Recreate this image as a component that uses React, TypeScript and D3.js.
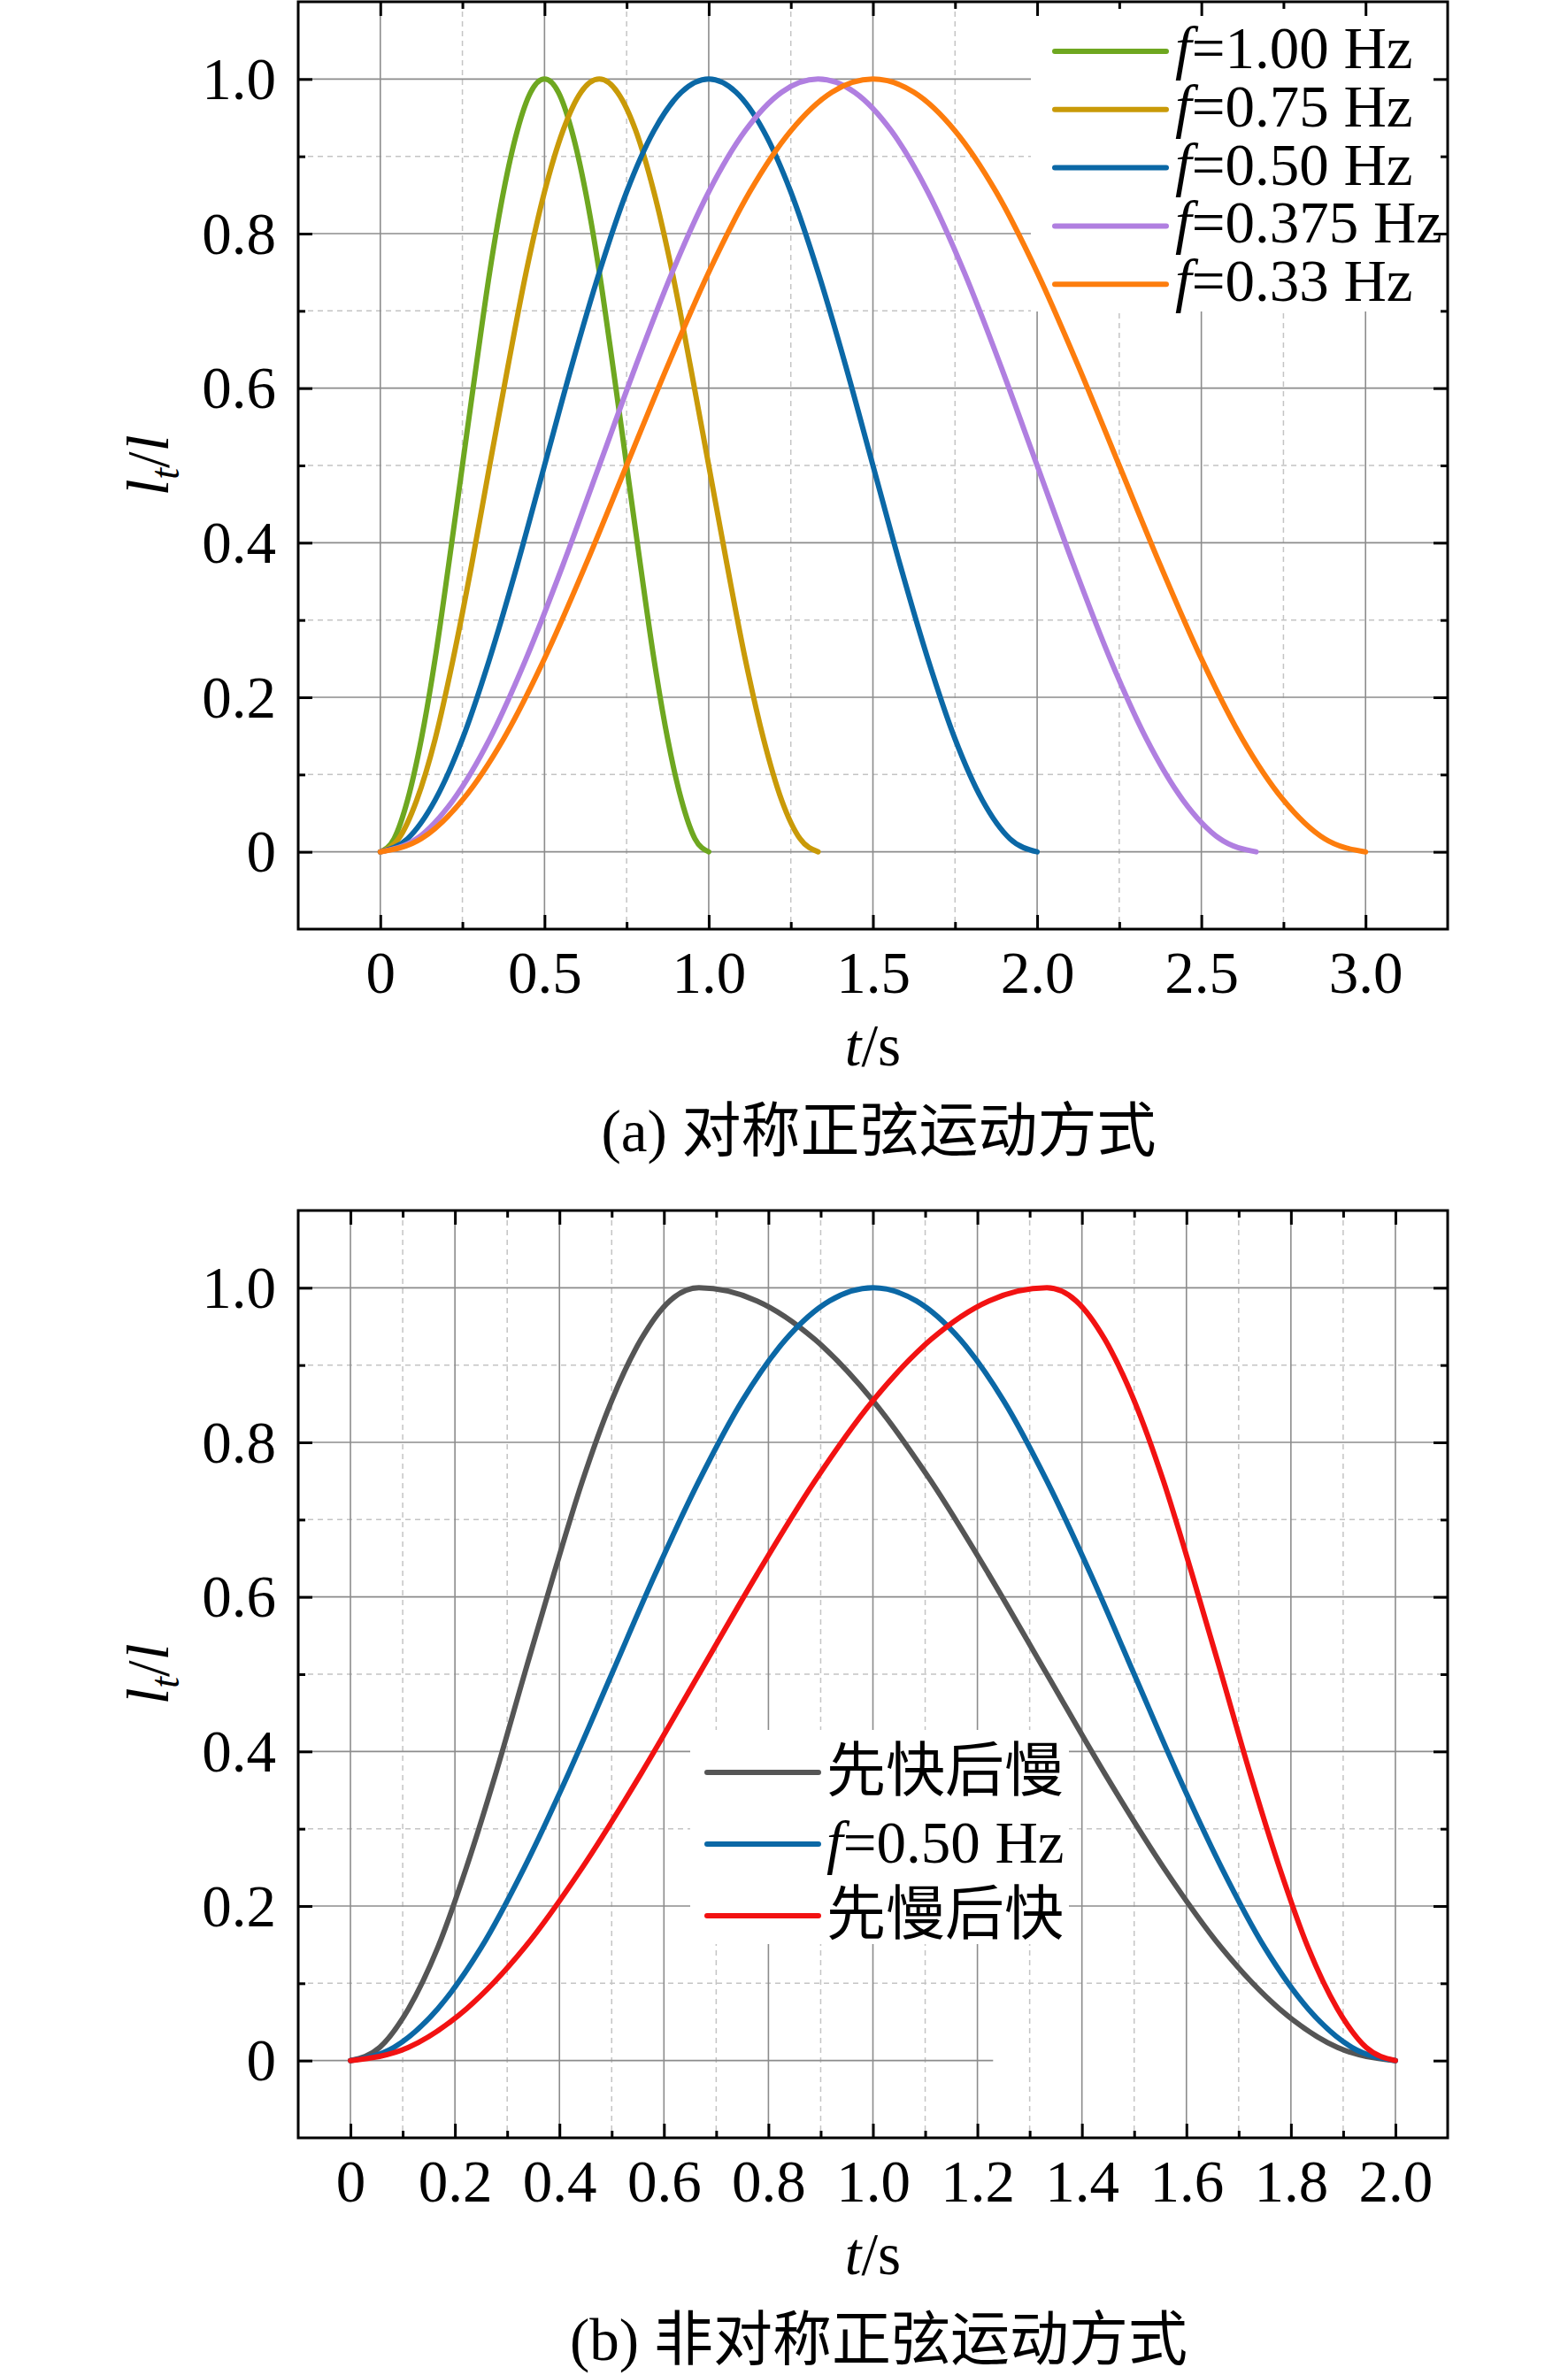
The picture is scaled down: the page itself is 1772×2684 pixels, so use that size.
import React, { useRef, useEffect } from 'react';
import * as d3 from 'd3';

const SERIF = "'Liberation Serif', 'Times New Roman', 'Noto Sans CJK SC', serif";
const FONT_SIZE = 67;

// one rise-and-fall cycle of l_t/l, read at 25 points along each curve
const cycleValues = [0, 0.017, 0.067, 0.146, 0.25, 0.371, 0.5, 0.629, 0.75, 0.854, 0.933, 0.983, 1,
  0.983, 0.933, 0.854, 0.75, 0.629, 0.5, 0.371, 0.25, 0.146, 0.067, 0.017, 0];

// (a) symmetric sine motion: sample times of each curve
const tF100 = [0, 0.042, 0.083, 0.125, 0.167, 0.208, 0.25, 0.292, 0.333, 0.375, 0.417, 0.458, 0.5,
  0.542, 0.583, 0.625, 0.667, 0.708, 0.75, 0.792, 0.833, 0.875, 0.917, 0.958, 1.0];
const tF075 = [0, 0.056, 0.111, 0.167, 0.222, 0.278, 0.333, 0.389, 0.444, 0.5, 0.556, 0.611, 0.667,
  0.722, 0.778, 0.833, 0.889, 0.944, 1.0, 1.056, 1.111, 1.167, 1.222, 1.278, 1.333];
const tF050 = [0, 0.083, 0.167, 0.25, 0.333, 0.417, 0.5, 0.583, 0.667, 0.75, 0.833, 0.917, 1.0,
  1.083, 1.167, 1.25, 1.333, 1.417, 1.5, 1.583, 1.667, 1.75, 1.833, 1.917, 2.0];
const tF0375 = [0, 0.111, 0.222, 0.333, 0.444, 0.556, 0.667, 0.778, 0.889, 1.0, 1.111, 1.222, 1.333,
  1.444, 1.556, 1.667, 1.778, 1.889, 2.0, 2.111, 2.222, 2.333, 2.444, 2.556, 2.667];
const tF033 = [0, 0.125, 0.25, 0.375, 0.5, 0.625, 0.75, 0.875, 1.0, 1.125, 1.25, 1.375, 1.5,
  1.625, 1.75, 1.875, 2.0, 2.125, 2.25, 2.375, 2.5, 2.625, 2.75, 2.875, 3.0];

// (b) asymmetric sine motion
const tFastSlow = [0, 0.056, 0.111, 0.167, 0.222, 0.278, 0.333, 0.389, 0.444, 0.5, 0.556, 0.611, 0.667,
  0.778, 0.889, 1.0, 1.111, 1.222, 1.333, 1.444, 1.556, 1.667, 1.778, 1.889, 2.0];
const tSlowFast = [0, 0.111, 0.222, 0.333, 0.444, 0.556, 0.667, 0.778, 0.889, 1.0, 1.111, 1.222, 1.333,
  1.389, 1.444, 1.5, 1.556, 1.611, 1.667, 1.722, 1.778, 1.833, 1.889, 1.944, 2.0];

const xMajorA = [0, 0.5, 1.0, 1.5, 2.0, 2.5, 3.0];
const xMinorA = [0.25, 0.75, 1.25, 1.75, 2.25, 2.75];
const xMajorB = [0, 0.2, 0.4, 0.6, 0.8, 1.0, 1.2, 1.4, 1.6, 1.8, 2.0];
const xMinorB = [0.1, 0.3, 0.5, 0.7, 0.9, 1.1, 1.3, 1.5, 1.7, 1.9];
const yMajor = [0, 0.2, 0.4, 0.6, 0.8, 1.0];
const yMinor = [0.1, 0.3, 0.5, 0.7, 0.9];

interface Series {
  label: string;
  color: string;
  t: number[];
  v: number[];
}

const seriesA: Series[] = [
  { label: 'f=1.00 Hz', color: '#6ea720', t: tF100, v: cycleValues },
  { label: 'f=0.75 Hz', color: '#c99a08', t: tF075, v: cycleValues },
  { label: 'f=0.50 Hz', color: '#0b68a6', t: tF050, v: cycleValues },
  { label: 'f=0.375 Hz', color: '#b07fe0', t: tF0375, v: cycleValues },
  { label: 'f=0.33 Hz', color: '#fd7d0d', t: tF033, v: cycleValues },
];

const seriesB: Series[] = [
  { label: '先快后慢', color: '#555555', t: tFastSlow, v: cycleValues },
  { label: 'f=0.50 Hz', color: '#0b68a6', t: tF050, v: cycleValues },
  { label: '先慢后快', color: '#f21212', t: tSlowFast, v: cycleValues },
];

interface Panel {
  left: number; right: number; top: number; bottom: number;
  xDomain: [number, number];
  xMajor: number[]; xMinor: number[];
  series: Series[];
  legendBox: [number, number, number, number];
  legendX: number; legendY: number; legendStep: number; legendText: number; legendDy: number;
  zeroLineEnd?: number;
  caption: string;
}

const panels: Panel[] = [
  {
    left: 337, right: 1636, top: 2, bottom: 1050,
    xDomain: [-0.25, 3.25], xMajor: xMajorA, xMinor: xMinorA, series: seriesA,
    legendBox: [1165, 4, 1634, 352],
    legendX: 1192, legendY: 58, legendStep: 65.8, legendText: 1328, legendDy: 19,
    caption: '(a) 对称正弦运动方式',
  },
  {
    left: 337, right: 1636, top: 1368, bottom: 2416,
    xDomain: [-0.1, 2.1], xMajor: xMajorB, xMinor: xMinorB, series: seriesB,
    legendBox: [780, 1955, 1208, 2197],
    legendX: 799, legendY: 2003, legendStep: 81, legendText: 934, legendDy: 21,
    zeroLineEnd: 1.23,
    caption: '(b) 非对称正弦运动方式',
  },
];

const fmt = (d: number) => (d === 0 ? '0' : d.toFixed(1));

function addLabel(sel: d3.Selection<SVGTextElement, unknown, null, undefined>, label: string) {
  if (label.startsWith('f=')) {
    sel.append('tspan').attr('font-style', 'italic').text('f');
    sel.append('tspan').text(label.slice(1));
  } else {
    sel.text(label);
  }
}

function drawPanel(svg: d3.Selection<SVGSVGElement, unknown, null, undefined>, p: Panel) {
  const x = d3.scaleLinear().domain(p.xDomain).range([p.left, p.right]);
  const y = d3.scaleLinear().domain([-0.1, 1.1]).range([p.bottom, p.top]);
  const g = svg.append('g');

  // grid
  const grid = g.append('g');
  grid.selectAll('line.vmin').data(p.xMinor).join('line')
    .attr('x1', (d) => x(d)).attr('x2', (d) => x(d))
    .attr('y1', p.top).attr('y2', p.bottom)
    .attr('stroke', '#c4c4c4').attr('stroke-width', 1.5).attr('stroke-dasharray', '6,5');
  grid.selectAll('line.hmin').data(yMinor).join('line')
    .attr('x1', p.left).attr('x2', p.right)
    .attr('y1', (d) => y(d)).attr('y2', (d) => y(d))
    .attr('stroke', '#c4c4c4').attr('stroke-width', 1.5).attr('stroke-dasharray', '6,5');
  grid.selectAll('line.vmaj').data(p.xMajor).join('line')
    .attr('x1', (d) => x(d)).attr('x2', (d) => x(d))
    .attr('y1', p.top).attr('y2', p.bottom)
    .attr('stroke', '#8c8c8c').attr('stroke-width', 1.6);
  grid.selectAll('line.hmaj').data(yMajor).join('line')
    .attr('x1', p.left)
    .attr('x2', (d) => (d === 0 && p.zeroLineEnd !== undefined ? x(p.zeroLineEnd) : p.right))
    .attr('y1', (d) => y(d)).attr('y2', (d) => y(d))
    .attr('stroke', '#8c8c8c').attr('stroke-width', 1.6);

  // legend background hides the grid, not the curves
  const [bx0, by0, bx1, by1] = p.legendBox;
  g.append('rect').attr('x', bx0).attr('y', by0).attr('width', bx1 - bx0).attr('height', by1 - by0)
    .attr('fill', '#fff');

  // curves
  const line = d3.line<[number, number]>()
    .x((d) => x(d[0]))
    .y((d) => y(d[1]))
    .curve(d3.curveMonotoneX);
  p.series.forEach((s) => {
    const pts: [number, number][] = s.t.map((t, i) => [t, s.v[i]]);
    g.append('path')
      .attr('d', line(pts))
      .attr('fill', 'none')
      .attr('stroke', s.color)
      .attr('stroke-width', 6)
      .attr('stroke-linecap', 'round')
      .attr('stroke-linejoin', 'round');
  });

  // legend entries
  p.series.forEach((s, i) => {
    const ly = p.legendY + i * p.legendStep;
    g.append('line')
      .attr('x1', p.legendX).attr('x2', p.legendX + 126)
      .attr('y1', ly).attr('y2', ly)
      .attr('stroke', s.color).attr('stroke-width', 6).attr('stroke-linecap', 'round');
    const txt = g.append('text')
      .attr('x', p.legendText).attr('y', ly + p.legendDy)
      .attr('font-family', SERIF).attr('font-size', FONT_SIZE);
    addLabel(txt, s.label);
  });

  // frame
  g.append('rect')
    .attr('x', p.left).attr('y', p.top)
    .attr('width', p.right - p.left).attr('height', p.bottom - p.top)
    .attr('fill', 'none').attr('stroke', '#000').attr('stroke-width', 3);

  // axes with inward ticks on all four sides
  const styleAxis = (a: d3.Selection<SVGGElement, unknown, null, undefined>) => {
    a.select('.domain').remove();
    a.selectAll('line').attr('stroke', '#000').attr('stroke-width', 3);
    a.selectAll('text').attr('font-family', SERIF).attr('font-size', FONT_SIZE).attr('fill', '#000');
  };
  const noLabel = () => '';

  const bottomMinor = g.append('g').attr('transform', `translate(0,${p.bottom})`)
    .call(d3.axisBottom(x).tickValues(p.xMinor).tickSize(-8).tickFormat(noLabel));
  styleAxis(bottomMinor);
  const bottomMajor = g.append('g').attr('transform', `translate(0,${p.bottom})`)
    .call(d3.axisBottom(x).tickValues(p.xMajor).tickSize(-16).tickFormat((d) => fmt(+d)));
  styleAxis(bottomMajor);
  bottomMajor.selectAll('text').attr('y', 72).attr('dy', null);

  const topMinor = g.append('g').attr('transform', `translate(0,${p.top})`)
    .call(d3.axisTop(x).tickValues(p.xMinor).tickSize(-8).tickFormat(noLabel));
  styleAxis(topMinor);
  const topMajor = g.append('g').attr('transform', `translate(0,${p.top})`)
    .call(d3.axisTop(x).tickValues(p.xMajor).tickSize(-16).tickFormat(noLabel));
  styleAxis(topMajor);

  const leftMinor = g.append('g').attr('transform', `translate(${p.left},0)`)
    .call(d3.axisLeft(y).tickValues(yMinor).tickSize(-8).tickFormat(noLabel));
  styleAxis(leftMinor);
  const leftMajor = g.append('g').attr('transform', `translate(${p.left},0)`)
    .call(d3.axisLeft(y).tickValues(yMajor).tickSize(-16).tickFormat((d) => fmt(+d)));
  styleAxis(leftMajor);
  leftMajor.selectAll('text').attr('x', -25).attr('dy', 22);

  const rightMinor = g.append('g').attr('transform', `translate(${p.right},0)`)
    .call(d3.axisRight(y).tickValues(yMinor).tickSize(-8).tickFormat(noLabel));
  styleAxis(rightMinor);
  const rightMajor = g.append('g').attr('transform', `translate(${p.right},0)`)
    .call(d3.axisRight(y).tickValues(yMajor).tickSize(-16).tickFormat(noLabel));
  styleAxis(rightMajor);

  // y label  l_t / l
  const cy = (p.top + p.bottom) / 2;
  const yl = g.append('text')
    .attr('transform', `translate(190,${cy}) rotate(-90)`)
    .attr('text-anchor', 'middle')
    .attr('font-family', SERIF).attr('font-size', FONT_SIZE);
  yl.append('tspan').attr('font-style', 'italic').text('l');
  yl.append('tspan').attr('font-style', 'italic').attr('font-size', 46).attr('dy', 12).text('t');
  yl.append('tspan').attr('dy', -12).text('/');
  yl.append('tspan').attr('font-style', 'italic').text('l');

  // x label  t/s
  const xl = g.append('text')
    .attr('x', (p.left + p.right) / 2).attr('y', p.bottom + 154)
    .attr('text-anchor', 'middle')
    .attr('font-family', SERIF).attr('font-size', FONT_SIZE);
  xl.append('tspan').attr('font-style', 'italic').text('t');
  xl.append('tspan').text('/s');

  // caption
  g.append('text')
    .attr('x', 993).attr('y', p.bottom + 251)
    .attr('text-anchor', 'middle')
    .attr('font-family', SERIF).attr('font-size', FONT_SIZE)
    .text(p.caption);
}

const App: React.FC = () => {
  const svgRef = useRef<SVGSVGElement | null>(null);

  useEffect(() => {
    document.body.style.margin = '0';
    const svg = d3.select(svgRef.current!);
    svg.selectAll('*').remove();
    svg.append('rect').attr('width', 1772).attr('height', 2684).attr('fill', '#fff');
    panels.forEach((p) => drawPanel(svg, p));
  }, []);

  return <svg ref={svgRef} width={1772} height={2684} style={{ display: 'block' }}></svg>;
};

export default App;
